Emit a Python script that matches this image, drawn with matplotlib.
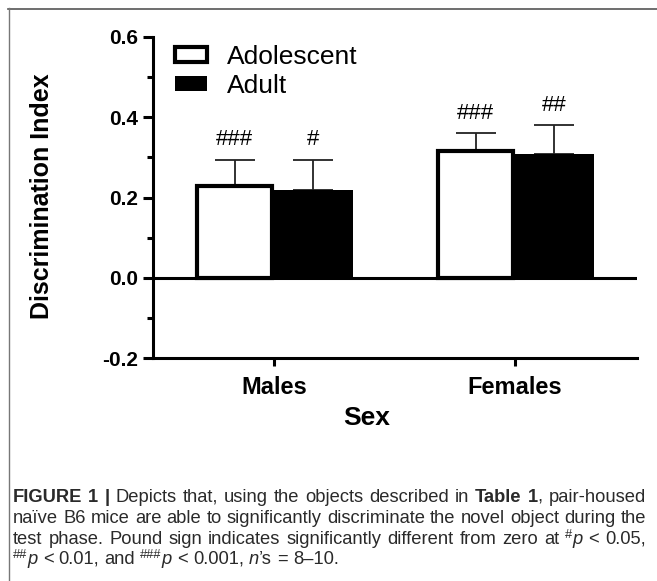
import matplotlib
matplotlib.use("Agg")
import matplotlib.pyplot as plt
from matplotlib.lines import Line2D
import numpy as np

# ---------------- data ----------------
groups = ["Males", "Females"]
series = ["Adolescent", "Adult"]
adolescent_mean = [0.228, 0.316]
adolescent_sem = [0.065, 0.044]
adult_mean = [0.218, 0.308]
adult_sem = [0.075, 0.072]
adolescent_sig = ["###", "###"]
adult_sig = ["#", "##"]
yticks = [-0.2, 0.0, 0.2, 0.4, 0.6]
yminor = [-0.1, 0.1, 0.3, 0.5]

W, H = 657, 581
DPI = 100
fig = plt.figure(figsize=(W / DPI, H / DPI), dpi=DPI)
plt.rcParams['font.family'] = ['Liberation Sans', 'DejaVu Sans']

def fx(px):
    return px / W

def fy(py):
    return 1 - py / H

# frame lines (top and left)
fig.add_artist(Line2D([fx(8), 1.0], [fy(8.5), fy(8.5)], color="#555555", lw=1.2))
fig.add_artist(Line2D([fx(8.5), fx(8.5)], [fy(8), 0.0], color="#777777", lw=1.0))

ax_l, ax_r, ax_t, ax_b = 153, 637, 37, 358
ax = fig.add_axes([fx(ax_l), fy(ax_b), (ax_r - ax_l) / W, (ax_b - ax_t) / H])
ax.set_xlim(-0.502, 1.506)
ax.set_ylim(-0.2, 0.6)
ax.patch.set_alpha(0)

x = np.arange(len(groups))
off = 0.163
wid = 0.326
edge_px = 4
wid_adol = wid - edge_px / 241.0

lw_ax = 2.2
ax.bar(x - off, adolescent_mean, wid_adol, color="white", edgecolor="black",
       linewidth=3.0, zorder=3, label=series[0])
ax.bar(x + off, adult_mean, wid, color="black", edgecolor="black",
       linewidth=0, zorder=3, label=series[1])
ax.errorbar(x - off, adolescent_mean, yerr=[np.zeros(2), adolescent_sem], fmt="none",
            ecolor="#222222", elinewidth=1.3, capsize=14.4, capthick=1.3, zorder=2)
ax.errorbar(x + off, adult_mean, yerr=[np.zeros(2), adult_sem], fmt="none",
            ecolor="#222222", elinewidth=1.3, capsize=14.4, capthick=1.3, zorder=2)

for xi, m, e, s in zip(x - off, adolescent_mean, adolescent_sem, adolescent_sig):
    ax.annotate(s, (xi, m + e), xytext=(0, 7), textcoords="offset points",
                ha="center", va="bottom", fontsize=16)
for xi, m, e, s in zip(x + off, adult_mean, adult_sem, adult_sig):
    ax.annotate(s, (xi, m + e), xytext=(0, 7), textcoords="offset points",
                ha="center", va="bottom", fontsize=16)

ax.axhline(0, color="black", lw=lw_ax, zorder=4)

for s in ["top", "right"]:
    ax.spines[s].set_visible(False)
for s in ["left", "bottom"]:
    ax.spines[s].set_linewidth(lw_ax)

ax.set_yticks(yticks)
ax.set_yticklabels([f"{v:.1f}" for v in yticks], fontsize=15, fontweight="bold")
ax.set_yticks(yminor, minor=True)
ax.set_xticks(x)
ax.set_xticklabels(groups, fontsize=17, fontweight="bold")
ax.tick_params(axis="y", which="major", length=7, width=lw_ax, pad=4)
ax.tick_params(axis="y", which="minor", length=4, width=lw_ax)
ax.tick_params(axis="x", which="major", length=6, width=lw_ax, pad=7)

fig.text(fx(42), fy(196), "Discrimination Index", rotation=90, ha="center", va="center",
         fontsize=18, fontweight="bold")
fig.text(fx(367), fy(418), "Sex", ha="center", va="center", fontsize=19, fontweight="bold")

# legend
leg = ax.legend(loc="upper left", bbox_to_anchor=(fx(175), fy(45)), bbox_transform=fig.transFigure,
                frameon=False, fontsize=19, handlelength=1.2, handleheight=0.5,
                handletextpad=0.75, labelspacing=0.2, borderpad=0, borderaxespad=0)

# ---------------- caption (justified) ----------------
CAP_FS = 13.2
CAP_COL = "#2a2a2a"
N = {}
B = {"fontweight": "bold"}
I = {"fontstyle": "italic"}
SUP = "sup"

lines = [
    [[("FIGURE", B)], [("1", B)], [("|", B)], [("Depicts", N)], [("that,", N)], [("using", N)],
     [("the", N)], [("objects", N)], [("described", N)], [("in", N)], [("Table", B)],
     [("1", B), (",", N)], [("pair-housed", N)]],
    [[(w, N)] for w in "naïve B6 mice are able to significantly discriminate the novel object during the".split()],
    [[(w, N)] for w in "test phase. Pound sign indicates significantly different from zero at".split()]
    + [[("#", SUP), ("p", I)], [("<", N)], [("0.05,", N)]],
    [[("##", SUP), ("p", I)], [("<", N)], [("0.01,", N)], [("and", N)], [("###", SUP), ("p", I)],
     [("<", N)], [("0.001,", N)], [("n", I), ("\u2019s", N)], [("=", N)], [("8\u201310.", N)]],
]
baselines = [502, 523, 544, 564]
x0, x1 = 13, 646

fig.canvas.draw()
renderer = fig.canvas.get_renderer()

def make_run(txt, style):
    kw = dict(fontsize=CAP_FS, color=CAP_COL, va="baseline", ha="left")
    if style == SUP:
        kw["fontsize"] = CAP_FS * 0.7
    elif isinstance(style, dict):
        kw.update(style)
    return fig.text(0, 0, txt, **kw)

space_nat = CAP_FS * DPI / 72 * 0.28
for li, (words, yb) in enumerate(zip(lines, baselines)):
    word_objs = []
    total = 0
    for w in words:
        objs = []
        ww = 0
        for txt, style in w:
            t = make_run(txt, style)
            wd = t.get_window_extent(renderer).width
            objs.append((t, wd, style))
            ww += wd
        word_objs.append((objs, ww))
        total += ww
    if li < len(lines) - 1:
        sp = (x1 - x0 - total) / (len(words) - 1)
    else:
        sp = space_nat
    cx = x0
    for objs, ww in word_objs:
        for t, wd, style in objs:
            dy = 6 if (style == SUP) else 0
            t.set_position((fx(cx), fy(yb - dy)))
            cx += wd
        cx += sp

fig.savefig("out.png", dpi=DPI)
